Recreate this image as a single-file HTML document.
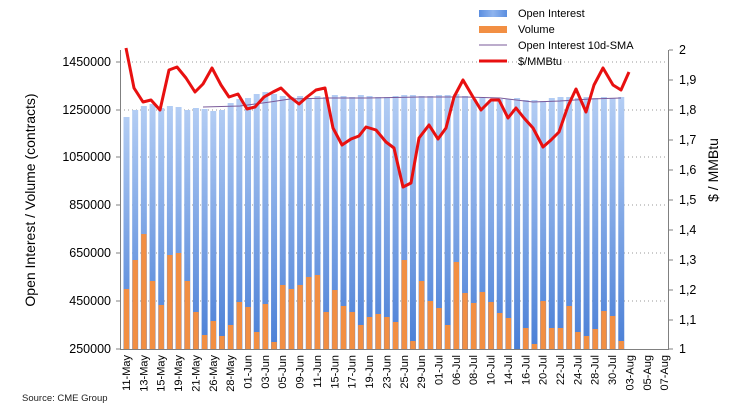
<!DOCTYPE html>
<html><head><meta charset="utf-8"><style>
html,body{margin:0;padding:0;background:#fff;}
svg{display:block;font-family:"Liberation Sans",Arial,sans-serif;}
</style></head><body>
<svg id="c" width="731" height="420" viewBox="0 0 731 420" xmlns="http://www.w3.org/2000/svg">
<defs>
<linearGradient id="bg" x1="0" y1="0" x2="0" y2="1"><stop offset="0" stop-color="#b3cdf4"/><stop offset="1" stop-color="#4a7fd6"/></linearGradient>
<linearGradient id="bh" x1="0" y1="0" x2="1" y2="0"><stop offset="0" stop-color="#5b8ee0"/><stop offset="0.5" stop-color="#8fb4ee"/><stop offset="1" stop-color="#5b8ee0"/></linearGradient>
</defs>
<g id="grid" stroke="#999" stroke-width="1" stroke-dasharray="1,3">
<line x1="120" y1="62" x2="669" y2="62"/><line x1="120" y1="110" x2="669" y2="110"/><line x1="120" y1="157" x2="669" y2="157"/><line x1="120" y1="205" x2="669" y2="205"/><line x1="120" y1="253" x2="669" y2="253"/><line x1="120" y1="301" x2="669" y2="301"/>
</g>
<g id="bars"></g>
<g stroke="#808080" stroke-width="1" fill="none">
<line x1="120.5" y1="50" x2="120.5" y2="349"/><line x1="120" y1="349.5" x2="669" y2="349.5"/><line x1="668.5" y1="50" x2="668.5" y2="349"/>
<line x1="116" y1="62" x2="120" y2="62"/><line x1="116" y1="110" x2="120" y2="110"/><line x1="116" y1="157" x2="120" y2="157"/><line x1="116" y1="205" x2="120" y2="205"/><line x1="116" y1="253" x2="120" y2="253"/><line x1="116" y1="301" x2="120" y2="301"/><line x1="116" y1="349" x2="120" y2="349"/>
<line x1="669" y1="50" x2="673" y2="50"/><line x1="669" y1="80" x2="673" y2="80"/><line x1="669" y1="110" x2="673" y2="110"/><line x1="669" y1="140" x2="673" y2="140"/><line x1="669" y1="170" x2="673" y2="170"/><line x1="669" y1="200" x2="673" y2="200"/><line x1="669" y1="230" x2="673" y2="230"/><line x1="669" y1="260" x2="673" y2="260"/><line x1="669" y1="290" x2="673" y2="290"/><line x1="669" y1="320" x2="673" y2="320"/><line x1="669" y1="349" x2="673" y2="349"/>
</g>
<polyline fill="none" stroke="#7a5a9a" stroke-width="1" points="203,107 240,106 270,102 290,99 330,98 366,98 420,97 466,97 500,98 533,102 560,101 590,99 621,98"/>
<polyline fill="none" stroke="#e81010" stroke-width="3" stroke-linejoin="round" points="126,48 134,88 143,102 151,100 160,110 169,70 177,67 186,78 195,92 203,84 212,68 221,85 229,97 238,94 247,109 255,107 264,97 273,92 281,88 290,97 299,104 307,97 316,90 325,88 333,128 342,145 351,139 359,136 366,127 376,130 386,142 394,148 403,187 411,183 419,138 429,125 438,139 446,128 454,97 463,80 473,97 481,110 491,100 499,100 508,118 516,108 524,118 533,128 543,147 551,140 559,132 568,106 576,89 586,112 594,85 603,68 613,85 621,90 629,72"/>
<g font-size="12.5" fill="#000" text-anchor="end">
<text x="111" y="66">1450000</text><text x="111" y="114">1250000</text><text x="111" y="161">1050000</text><text x="111" y="209">850000</text><text x="111" y="257">650000</text><text x="111" y="305">450000</text><text x="111" y="353">250000</text>
</g>
<g font-size="12.5" fill="#000">
<text x="679" y="54">2</text><text x="679" y="84">1,9</text><text x="679" y="114">1,8</text><text x="679" y="144">1,7</text><text x="679" y="174">1,6</text><text x="679" y="204">1,5</text><text x="679" y="234">1,4</text><text x="679" y="264">1,3</text><text x="679" y="294">1,2</text><text x="679" y="324">1,1</text><text x="679" y="353">1</text>
</g>
<text transform="translate(35,200) rotate(-90)" font-size="14" text-anchor="middle">Open Interest / Volume (contracts)</text>
<text transform="translate(718,170) rotate(-90)" font-size="14" text-anchor="middle">$ / MMBtu</text>
<g font-size="11" fill="#000" text-anchor="end" id="dl">
<text transform="translate(130,355) rotate(-90)">11-May</text><text transform="translate(147.4,355) rotate(-90)">13-May</text><text transform="translate(164.7,355) rotate(-90)">15-May</text><text transform="translate(182.1,355) rotate(-90)">19-May</text><text transform="translate(199.4,355) rotate(-90)">21-May</text><text transform="translate(216.8,355) rotate(-90)">26-May</text><text transform="translate(234.2,355) rotate(-90)">28-May</text><text transform="translate(251.5,355) rotate(-90)">01-Jun</text><text transform="translate(268.9,355) rotate(-90)">03-Jun</text><text transform="translate(286.2,355) rotate(-90)">05-Jun</text><text transform="translate(303.6,355) rotate(-90)">09-Jun</text><text transform="translate(321,355) rotate(-90)">11-Jun</text><text transform="translate(338.3,355) rotate(-90)">15-Jun</text><text transform="translate(355.7,355) rotate(-90)">17-Jun</text><text transform="translate(373,355) rotate(-90)">19-Jun</text><text transform="translate(390.4,355) rotate(-90)">23-Jun</text><text transform="translate(407.8,355) rotate(-90)">25-Jun</text><text transform="translate(425.1,355) rotate(-90)">29-Jun</text><text transform="translate(442.5,355) rotate(-90)">01-Jul</text><text transform="translate(459.8,355) rotate(-90)">06-Jul</text><text transform="translate(477.2,355) rotate(-90)">08-Jul</text><text transform="translate(494.6,355) rotate(-90)">10-Jul</text><text transform="translate(511.9,355) rotate(-90)">14-Jul</text><text transform="translate(529.3,355) rotate(-90)">16-Jul</text><text transform="translate(546.6,355) rotate(-90)">20-Jul</text><text transform="translate(564,355) rotate(-90)">22-Jul</text><text transform="translate(581.4,355) rotate(-90)">24-Jul</text><text transform="translate(598.7,355) rotate(-90)">28-Jul</text><text transform="translate(616.1,355) rotate(-90)">30-Jul</text><text transform="translate(633.4,355) rotate(-90)">03-Aug</text><text transform="translate(650.8,355) rotate(-90)">05-Aug</text><text transform="translate(668.2,355) rotate(-90)">07-Aug</text>
</g>
<text x="22" y="401" font-size="9.5" fill="#222">Source: CME Group</text>
<rect x="479" y="10" width="28" height="7" fill="url(#bh)"/>
<rect x="479" y="26" width="28" height="7" fill="#f28f43"/>
<line x1="479" y1="45" x2="507" y2="45" stroke="#7a5a9a" stroke-width="1"/>
<line x1="479" y1="61" x2="507" y2="61" stroke="#e81010" stroke-width="3"/>
<g font-size="11" fill="#000">
<text x="518" y="17">Open Interest</text><text x="518" y="33">Volume</text><text x="518" y="49">Open Interest 10d-SMA</text><text x="518" y="65">$/MMBtu</text>
</g>
</svg>
<script>
var oi=[117,110,106,104,108,106,107,110,108,109,111,110,103,99,98,94,92,94,96,97,96,98,96,97,95,96,97,95,96,97,97,96,95,95,96,96,95,95,94,96,99,98,100,99,99,98,100,100,101,98,97,97,98,97,98,97,98,97];
var vo=[289,260,234,281,305,255,253,281,312,335,321,336,325,302,307,332,304,342,285,289,285,277,275,312,290,306,312,325,317,314,317,322,260,341,281,301,308,325,262,293,303,292,302,313,318,349,328,344,301,328,328,306,332,336,329,311,316,341];
var g=document.getElementById('bars'),s='';
for(var i=0;i<oi.length;i++){var x=126.5+8.68*i;
s+='<rect x="'+(x-3)+'" y="'+oi[i]+'" width="6" height="'+(349-oi[i])+'" fill="url(#bg)"/>';}
for(var i=0;i<vo.length;i++){var x=126.5+8.68*i;if(vo[i]<349)
s+='<rect x="'+(x-2.7)+'" y="'+vo[i]+'" width="5.4" height="'+(349-vo[i])+'" fill="#f28f43"/>';}
g.innerHTML=s;
</script>
</body></html>
